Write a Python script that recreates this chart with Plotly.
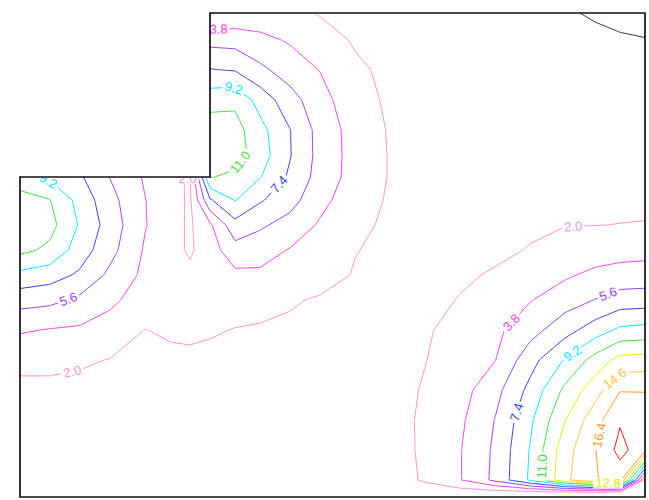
import plotly.graph_objects as go

# Node coordinates of the L-shaped plate (x to the right, y upward).
x_nodes = [0, 30, 60, 90, 125, 150, 170, 190, 215, 240, 270, 300, 335, 370,
           405, 440, 475, 510, 545, 575, 600, 625]
# Rows listed from the top edge down to the bottom edge.
y_nodes_top_down = [484, 457, 427, 397, 367, 342, 320, 297, 272, 247, 222,
                    197, 167, 137, 107, 77, 47, 17, 4]

N = None  # nodes inside the cut-out corner (outside the plate)

# Nodal values, one list per row, top row first.
values_top_down = [
    [N, N, N, N, N, N, N, 1.9, 2.3, 2.6, 2.4, 1.9, 1.6, 1.5, 1.4, 1.3, 1.1, 0.8, 0.3, 0.1, 0.0, 0.0],
    [N, N, N, N, N, N, N, 5.0, 4.9, 4.3, 3.6, 2.65, 1.85, 1.6, 1.5, 1.35, 1.2, 0.9, 0.6, 0.4, 0.28, 0.22],
    [N, N, N, N, N, N, N, 7.5, 7.3, 6.0, 4.8, 3.75, 2.25, 1.7, 1.5, 1.4, 1.3, 1.1, 0.85, 0.65, 0.5, 0.45],
    [N, N, N, N, N, N, N, 10.3, 10.6, 8.5, 6.3, 4.5, 2.6, 1.75, 1.6, 1.45, 1.35, 1.2, 1.05, 0.9, 0.8, 0.75],
    [N, N, N, N, N, N, N, 12.0, 11.7, 9.8, 7.45, 4.95, 3.05, 1.85, 1.65, 1.5, 1.45, 1.35, 1.25, 1.15, 1.1, 1.05],
    [N, N, N, N, N, N, N, 12.3, 11.8, 10.1, 7.5, 5.0, 3.1, 1.9, 1.7, 1.6, 1.5, 1.45, 1.4, 1.35, 1.3, 1.3],
    [10.0, 8.8, 7.65, 5.55, 3.6, 2.5, 1.8, 11.1, 10.6, 9.3, 7.1, 4.9, 3.07, 1.9, 1.75, 1.7, 1.65, 1.6, 1.55, 1.5, 1.5, 1.5],
    [11.7, 11.05, 8.55, 6.2, 3.85, 2.65, 1.75, 7.2, 9.3, 7.6, 6.3, 4.3, 2.83, 1.8, 1.8, 1.75, 1.75, 1.75, 1.75, 1.75, 1.75, 1.75],
    [12.5, 11.6, 9.0, 6.6, 3.9, 2.65, 1.75, 3.5, 6.8, 5.9, 4.9, 3.6, 2.4, 1.7, 1.85, 1.8, 1.8, 1.85, 1.95, 1.98, 2.02, 2.05],
    [11.5, 10.6, 8.3, 6.2, 3.6, 2.63, 1.75, 3.0, 4.9, 4.5, 3.7, 3.0, 2.05, 1.7, 1.8, 1.8, 1.8, 2.05, 2.7, 2.9, 3.1, 3.2],
    [8.7, 8.2, 7.1, 5.2, 3.4, 2.8, 2.4, 2.8, 3.4, 3.5, 3.2, 2.6, 1.9, 1.75, 1.75, 1.85, 2.1, 2.9, 3.55, 4.2, 4.5, 4.6],
    [6.3, 6.05, 5.2, 4.2, 2.9, 2.6, 2.45, 2.5, 2.6, 2.5, 2.15, 1.85, 1.7, 1.65, 1.7, 2.05, 2.9, 3.7, 4.8, 5.65, 6.4, 6.5],
    [4.0, 3.7, 3.55, 3.0, 1.97, 2.2, 2.3, 2.15, 1.95, 1.85, 1.75, 1.65, 1.6, 1.55, 1.8, 2.6, 3.4, 4.9, 6.7, 8.3, 9.55, 9.8],
    [2.45, 2.45, 2.2, 1.95, 1.8, 1.7, 1.7, 1.65, 1.6, 1.55, 1.5, 1.45, 1.4, 1.45, 1.95, 2.86, 3.75, 6.7, 9.35, 11.7, 13.4, 13.5],
    [1.6, 1.6, 1.6, 1.55, 1.5, 1.45, 1.4, 1.4, 1.35, 1.3, 1.3, 1.3, 1.3, 1.35, 2.15, 3.1, 5.0, 7.9, 11.4, 13.8, 16.3, 16.35],
    [1.5, 1.5, 1.45, 1.4, 1.4, 1.35, 1.35, 1.3, 1.3, 1.25, 1.25, 1.25, 1.25, 1.3, 2.3, 3.47, 5.65, 8.85, 12.75, 15.7, 18.0, 17.0],
    [1.4, 1.4, 1.35, 1.35, 1.3, 1.3, 1.3, 1.25, 1.25, 1.2, 1.2, 1.2, 1.2, 1.25, 2.3, 3.7, 5.9, 9.3, 13.9, 16.3, 18.8, 17.0],
    [1.35, 1.35, 1.3, 1.3, 1.25, 1.25, 1.25, 1.2, 1.2, 1.15, 1.15, 1.15, 1.15, 1.2, 2.2, 3.7, 6.0, 9.45, 14.2, 16.3, 17.0, 1.5],
    [1.0, 1.0, 1.0, 1.0, 1.0, 1.0, 1.0, 1.0, 1.0, 1.0, 1.0, 1.0, 1.0, 1.0, 1.0, 1.0, 1.0, 1.0, 1.0, 1.0, 1.0, 1.0],
]

# Contour levels 0.2, 2.0, ..., 18.2 and the colour of each level.
level_start, level_step, level_end = 0.2, 1.8, 18.2
level_colors = ["#3a3a3a", "#ff8fcf", "#ff3cf0", "#9a3cff", "#3a3aff",
                "#00e8ff", "#3ee03e", "#e8e800", "#ffc23c", "#ff9428", "#ff1010"]

# Plate outline and its cut-out corner.
plate_w, plate_h = 625, 484
notch_x, notch_y = 190, 320

n = len(level_colors) - 1
colorscale = [[i / n, c] for i, c in enumerate(level_colors)]

y_nodes = y_nodes_top_down[::-1]
z = values_top_down[::-1]

fig = go.Figure(go.Contour(
    x=x_nodes, y=y_nodes, z=z,
    connectgaps=True,
    zmin=level_start, zmax=level_end,
    colorscale=colorscale, showscale=False,
    contours=dict(start=level_start, end=level_end + 0.01, size=level_step,
                  coloring="lines", showlabels=True, labelformat=".1f",
                  labelfont=dict(family="Liberation Sans", size=13)),
    line=dict(width=1, smoothing=0),
    hoverinfo="skip",
))

fig.add_shape(type="rect", xref="x", yref="y", x0=-3, x1=notch_x, y0=notch_y, y1=plate_h + 3,
              fillcolor="white", line=dict(width=0), layer="above")
fig.add_shape(type="path", xref="x", yref="y",
              path=(f"M 0,0 L {plate_w},0 L {plate_w},{plate_h} L {notch_x},{plate_h} "
                    f"L {notch_x},{notch_y} L 0,{notch_y} Z"),
              line=dict(color="#111111", width=1.7), layer="above")

fig.update_layout(
    width=649, height=500,
    margin=dict(l=17, r=1, t=10, b=0, pad=0),
    paper_bgcolor="white", plot_bgcolor="white",
    xaxis=dict(range=[-3, plate_w + 3], visible=False, fixedrange=True),
    yaxis=dict(range=[-3, plate_h + 3], visible=False, fixedrange=True),
    showlegend=False,
)

fig.write_html("out.html")
